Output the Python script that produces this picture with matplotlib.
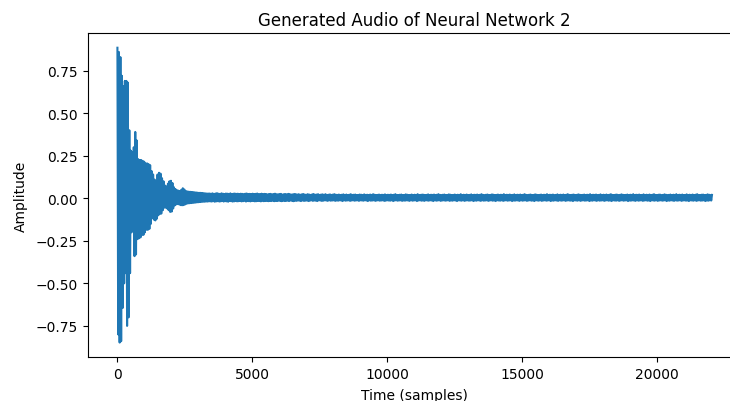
import numpy as np
import matplotlib
matplotlib.use("Agg")
import matplotlib.pyplot as plt

# Audio: 22050 samples. Envelope extremes, in
# thousandths of full scale; positive peaks and negative troughs alternate.
n_samples = 22050

head_upper = [885, 860, 830, 720, 660, 690, 690, 680, 400, 280,
              270, 300, 390, 340, 230, 225, 225, 220, 215, 205,
              205, 200, 195, 160, 140, 110, 97, 140, 150, 145,
              118, 100, 75, 70, 86, 100, 103, 90, 65, 55,
              48, 45, 43, 50, 59, 52, 43, 40, 39, 38,
              37, 36, 35, 34, 33, 32, 32, 31, 30, 29,
              28, 28]
head_lower = [-800, -848, -840, -645, -500, -440, -750, -700, -440, -200,
              -180, -340, -330, -240, -235, -230, -215, -215, -200, -185,
              -185, -180, -150, -115, -125, -130, -120, -100, -92, -90,
              -70, -55, -55, -60, -70, -80, -78, -60, -42, -36,
              -34, -36, -40, -41, -40, -36, -32, -30, -29, -28,
              -27, -26, -25, -24, -23, -22, -21, -20, -20, -19,
              -19, -18]

tail_upper = [
    28, 27, 29, 26, 28, 30, 27, 26, 29, 27, 25, 28, 27, 26, 29, 25, 27, 28, 26, 27,
    25, 27, 26, 24, 27, 28, 25, 26, 24, 27, 25, 26, 28, 24, 25, 27, 24, 26, 25, 23,
    25, 26, 23, 25, 27, 24, 23, 25, 26, 22, 24, 25, 23, 26, 24, 22, 23, 25, 24, 22,
    24, 21, 23, 25, 22, 21, 24, 22, 20, 23, 25, 21, 22, 24, 20, 22, 23, 21, 24, 20,
    21, 23, 20, 22, 24, 21, 20, 22, 19, 21, 23, 20, 22, 19, 21, 24, 20, 21, 22, 19,
    20, 22, 21, 19, 23, 20, 21, 19, 22, 20, 24, 21, 19, 20, 22, 19, 21, 20, 23, 19,
    21, 20, 22, 19, 21, 24, 20, 19, 21, 22, 19, 20, 23, 21, 19, 20, 22, 19, 21, 20,
    24, 19, 20, 22, 21, 19, 20, 23, 19, 21, 20, 22, 19, 21, 24, 20, 19, 21, 22, 19,
    20, 23, 21, 19, 20, 22, 19, 21, 20, 24, 19, 21, 20, 22, 19, 20, 23, 19, 21, 20,
    22, 19, 21, 24, 20, 19, 21, 22, 19, 20, 23, 21, 19, 20, 22, 19, 21, 20, 24, 19,
    21, 20, 22, 19, 20, 23, 19, 21, 20, 22, 19, 21, 24, 20, 19, 21, 22, 19, 20, 23,
    21, 19, 20, 22, 19, 21, 20, 24, 19, 21, 20, 22, 19, 20, 23, 19, 21, 20, 22, 19,
    21, 24, 20, 19, 21, 22, 19, 20, 23, 21, 19, 20, 22, 19, 21, 20, 24, 19, 21, 20,
    22, 19, 20, 23, 19, 21, 20, 22, 19, 21, 24, 20, 19, 21, 22, 19, 20, 23, 21, 19,
    20, 22, 19, 21, 20, 24, 19, 21, 20, 22, 19, 20, 23, 19, 21, 20, 22, 19, 21, 24,
    20, 19, 21, 22, 19, 20, 23, 21, 19, 20, 22, 19, 21, 20, 24, 19, 21, 20, 22, 19,
    20, 23, 19, 21, 20, 22, 19, 21, 24, 20, 19, 21, 22, 19, 20, 23, 21, 19, 20]
tail_lower = [
    -18, -19, -17, -20, -18, -17, -19, -18, -16, -19, -17, -18, -20, -16, -17, -19, -18, -16, -18, -17,
    -16, -18, -17, -15, -19, -16, -17, -18, -15, -16, -18, -17, -15, -16, -18, -15, -17, -16, -15, -17,
    -15, -16, -14, -17, -15, -16, -14, -15, -17, -14, -16, -15, -14, -16, -13, -15, -17, -14, -15, -13,
    -14, -16, -13, -15, -14, -13, -16, -14, -12, -15, -13, -14, -16, -12, -13, -15, -14, -12, -13, -15,
    -12, -14, -13, -12, -15, -13, -14, -12, -13, -16, -12, -14, -13, -12, -15, -13, -12, -14, -13, -12,
    -15, -12, -13, -14, -12, -13, -16, -12, -14, -13, -12, -15, -13, -12, -14, -13, -12, -15, -14, -12,
    -13, -14, -12, -16, -13, -12, -14, -13, -12, -15, -13, -14, -12, -13, -15, -12, -14, -13, -12, -16,
    -13, -12, -14, -13, -15, -12, -13, -14, -12, -13, -16, -12, -14, -13, -12, -15, -13, -12, -14, -13,
    -12, -15, -13, -14, -12, -13, -16, -12, -13, -14, -12, -15, -13, -12, -14, -13, -12, -16, -13, -14,
    -12, -13, -15, -12, -14, -13, -12, -15, -13, -12, -14, -13, -16, -12, -13, -14, -12, -15, -13, -12,
    -14, -13, -12, -16, -13, -14, -12, -13, -15, -12, -14, -13, -12, -15, -13, -12, -14, -13, -16, -12,
    -13, -14, -12, -15, -13, -12, -14, -13, -12, -16, -13, -14, -12, -13, -15, -12, -14, -13, -12, -15,
    -13, -12, -14, -13, -16, -12, -13, -14, -12, -15, -13, -12, -14, -13, -12, -16, -13, -14, -12, -13,
    -15, -12, -14, -13, -12, -15, -13, -12, -14, -13, -16, -12, -13, -14, -12, -15, -13, -12, -14, -13,
    -12, -16, -13, -14, -12, -13, -15, -12, -14, -13, -12, -15, -13, -12, -14, -13, -16, -12, -13, -14,
    -12, -15, -13, -12, -14, -13, -12, -16, -13, -14, -12, -13, -15, -12, -14, -13, -12, -15, -13, -12,
    -14, -13, -16, -12, -13, -14, -12, -15, -13, -12, -14, -13, -12, -16, -13, -14, -12, -13]

upper = np.array(head_upper + tail_upper) / 1000.0
lower = np.array(head_lower + tail_lower) / 1000.0
step = n_samples / (len(upper) - 1)
t_upper = np.arange(len(upper)) * step
t_lower = np.arange(len(lower)) * step + step / 2

order = np.argsort(np.concatenate([t_upper, t_lower]), kind="stable")
t = np.concatenate([t_upper, t_lower])[order]
y = np.concatenate([upper, lower])[order]

W, H = 730, 402
fig = plt.figure(figsize=(W / 100, H / 100), dpi=100)
ax = fig.add_axes([87.7 / W, (H - 358.3) / H, 654 / W, 324.3 / H])
ax.plot(t, y, color="#1f77b4", linewidth=1.5)
ax.set_title("Generated Audio of Neural Network 2", fontsize=12)
ax.set_xlabel("Time (samples)", labelpad=5)
ax.set_ylabel("Amplitude", labelpad=6)
fig.savefig("out.png", dpi=100)
